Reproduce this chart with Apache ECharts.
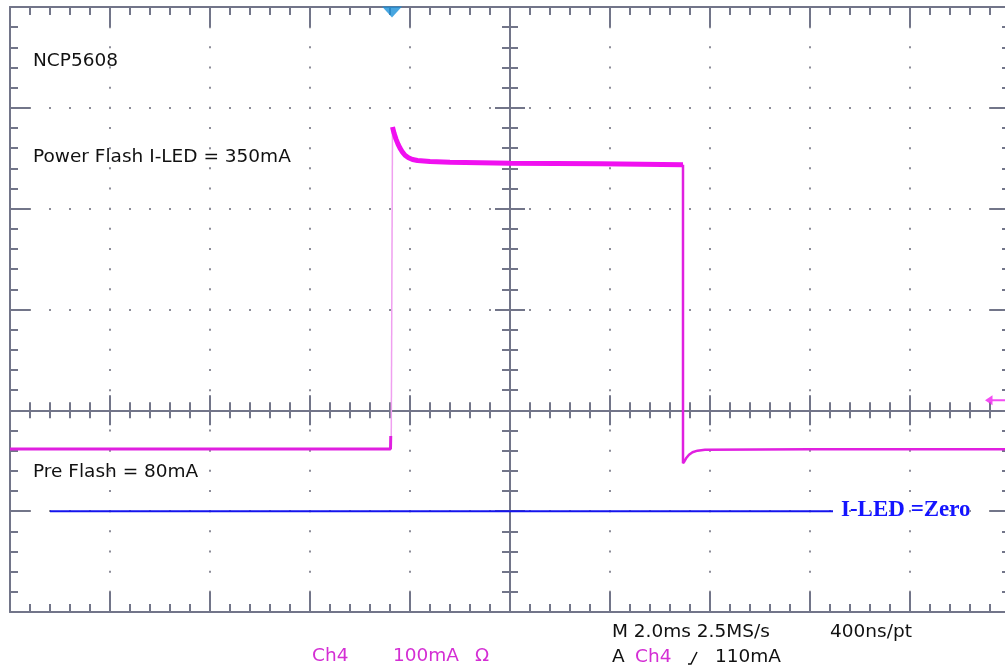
<!DOCTYPE html>
<html><head><meta charset="utf-8">
<script src="https://cdn.jsdelivr.net/npm/echarts@6/dist/echarts.min.js"></script>
<style>html,body{margin:0;padding:0;background:#fff}#c{width:1005px;height:669px}</style>
</head><body><div id="c"></div>
<script>
// Time axis: ms, 2.0 ms/div, 0 = screen centre
const timeMin = -10, timeMax = 10, timeDiv = 2;
// Current axis: mA, 100 mA/div
const currentMin = -100, currentMax = 500, currentDiv = 100;
const centreCurrent = 100, centreTime = 0;

// Ch4 LED current trace
const preFlashTime    = [-10, -6, -2.39, -2.385];
const preFlashCurrent = [61.7, 61.7, 61.7, 74.6];
const riseTime    = [-2.375, -2.35];
const riseCurrent = [74.6, 381];
const flashTime    = [-2.35, -2.32, -2.28, -2.24, -2.2, -2.15, -2.1, -2.03, -1.95, -1.85, -1.6, -1.2, 0, 1.8, 3.46];
const flashCurrent = [381, 375, 369, 364, 360, 356, 353, 350.5, 348.8, 347.8, 346.8, 346, 345, 344.5, 343.5];
const fallTime    = [3.46, 3.46, 3.49, 3.53, 3.58, 3.65, 3.75, 3.9, 6, 10];
const fallCurrent = [343.5, 47.5, 49.5, 53, 56, 58.5, 60, 61, 61.5, 61.5];
// zero-current reference line
const zeroTime    = [-9.2, 6.46];
const zeroCurrent = [0, 0];
// trigger position / level markers
const triggerTime = -2.36, triggerLevel = 110, levelMarkerTime = 9.75;

// texts
const textChip = 'NCP5608';
const textPower = 'Power Flash I-LED = 350mA';
const textPre = 'Pre Flash = 80mA';
const textZero = 'I-LED =Zero';
const textTimebase = 'M 2.0ms 2.5MS/s';
const textRecord = '400ns/pt';
const textTrigA = 'A';
const textCh = 'Ch4';
const textTrigLevel = '110mA';
const textScale = '100mA';
const textOhm = 'Ω';

const zip = (a, b) => a.map((v, i) => [v, b[i]]);

const G = {left: 10, top: 7, width: 1000, height: 605, outerBoundsMode: 'none', containLabel: false};
const gray = '#727589';
const magenta = '#d42ed4';
const font = '18.5px "DejaVu Sans"';

const hOffset = -G.height * (centreCurrent - currentMin) / (currentMax - currentMin);
const vOffset = -G.width * (centreTime - timeMin) / (timeMax - timeMin);

function xAx(extra) {
  return Object.assign({
    type: 'value', min: timeMin, max: timeMax, interval: timeDiv,
    axisLabel: {show: false},
    axisLine: {show: true, onZero: false, lineStyle: {color: gray, width: 2}},
    axisTick: {show: true, inside: true, length: 20, lineStyle: {color: gray, width: 2}},
    minorTick: {show: true, splitNumber: 5, length: 8, lineStyle: {color: gray, width: 2}},
    splitLine: {show: false}
  }, extra);
}
function yAx(extra) {
  return Object.assign({
    type: 'value', min: currentMin, max: currentMax, interval: currentDiv,
    axisLabel: {show: false},
    axisLine: {show: true, onZero: false, lineStyle: {color: gray, width: 2}},
    axisTick: {show: true, inside: true, length: 20, lineStyle: {color: gray, width: 2}},
    minorTick: {show: true, splitNumber: 5, length: 8, lineStyle: {color: gray, width: 2}},
    splitLine: {show: false}
  }, extra);
}
const crossTick = (inside) => ({show: true, inside: inside, length: 15, lineStyle: {color: gray, width: 2}});

const chart = echarts.init(document.getElementById('c'), null, {renderer: 'canvas'});
chart.setOption({
  animation: false,
  backgroundColor: '#fff',
  grid: G,
  xAxis: [
    xAx({position: 'bottom',
      splitLine: {show: true, lineStyle: {color: '#8c8c98', width: 2, type: [2, G.height / 30 - 2], dashOffset: 1}}}),
    xAx({position: 'top'}),
    xAx({position: 'bottom', offset: hOffset, axisTick: crossTick(true)}),
    xAx({position: 'bottom', offset: hOffset, axisTick: crossTick(false)})
  ],
  yAxis: [
    yAx({position: 'left',
      splitLine: {show: true, lineStyle: {color: '#8c8c98', width: 2, type: [2, 18], dashOffset: 1}}}),
    yAx({position: 'right'}),
    yAx({position: 'left', offset: vOffset, axisTick: crossTick(true)}),
    yAx({position: 'left', offset: vOffset, axisTick: crossTick(false)})
  ],
  series: [
    {type: 'line', data: zip(zeroTime, zeroCurrent), symbol: 'none', z: 3,
      lineStyle: {color: '#1414ee', width: 2}},
    {type: 'line', data: zip(preFlashTime, preFlashCurrent), symbol: 'none', z: 4,
      lineStyle: {color: '#e020e0', width: 3}},
    {type: 'line', data: zip(riseTime, riseCurrent), symbol: 'none', z: 4,
      lineStyle: {color: '#f0a0f0', width: 1.5}},
    {type: 'line', data: zip(flashTime, flashCurrent), symbol: 'none', z: 5,
      lineStyle: {color: '#f010f0', width: 5}},
    {type: 'line', data: zip(fallTime, fallCurrent), symbol: 'none', z: 4,
      lineStyle: {color: '#e020e0', width: 2.5}},
    {type: 'scatter', data: [[triggerTime, currentMax]], symbol: 'triangle', symbolRotate: 180,
      symbolSize: [20, 11], symbolOffset: [0, 5], clip: false, z: 6,
      itemStyle: {color: '#1a90d8'}},
    {type: 'scatter', data: [[levelMarkerTime, triggerLevel]], clip: false, z: 6,
      symbol: 'path://M0,5 L9,0 L9,4 L30,4 L30,6 L9,6 L9,10 Z', symbolSize: [25, 10],
      itemStyle: {color: '#f020f0'}}
  ],
  graphic: [
    {type: 'text', x: 33, y: 61, style: {text: textChip, font: font, fill: '#111', verticalAlign: 'middle'}},
    {type: 'text', x: 33, y: 157, style: {text: textPower, font: font, fill: '#111', verticalAlign: 'middle'}},
    {type: 'text', x: 33, y: 472, style: {text: textPre, font: font, fill: '#111', verticalAlign: 'middle'}},
    {type: 'text', x: 841, y: 510, style: {text: textZero, font: 'bold 23px "Liberation Serif"', fill: '#1414ff', verticalAlign: 'middle'}},
    {type: 'text', x: 612, y: 632, style: {text: textTimebase, font: font, fill: '#111', verticalAlign: 'middle'}},
    {type: 'text', x: 830, y: 632, style: {text: textRecord, font: font, fill: '#111', verticalAlign: 'middle'}},
    {type: 'text', x: 612, y: 657, style: {text: textTrigA, font: font, fill: '#111', verticalAlign: 'middle'}},
    {type: 'text', x: 635, y: 657, style: {text: textCh, font: font, fill: magenta, verticalAlign: 'middle'}},
    {type: 'polyline', shape: {points: [[688, 664], [691, 664], [697, 652]]}, style: {stroke: '#111', lineWidth: 1.5, fill: null}},
    {type: 'text', x: 715, y: 657, style: {text: textTrigLevel, font: font, fill: '#111', verticalAlign: 'middle'}},
    {type: 'text', x: 312, y: 656, style: {text: textCh, font: font, fill: magenta, verticalAlign: 'middle'}},
    {type: 'text', x: 393, y: 656, style: {text: textScale, font: font, fill: magenta, verticalAlign: 'middle'}},
    {type: 'text', x: 475, y: 656, style: {text: textOhm, font: font, fill: magenta, verticalAlign: 'middle'}}
  ]
});
</script>
</body></html>
